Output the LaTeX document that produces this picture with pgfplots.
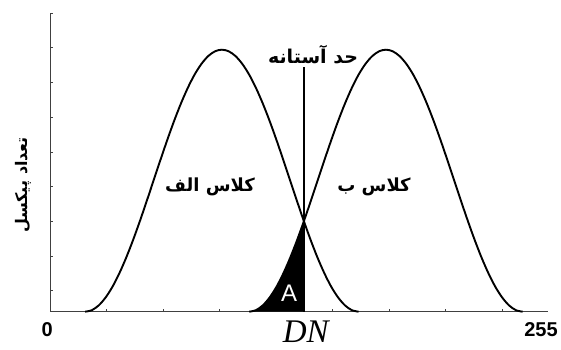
\documentclass[border=0pt]{standalone}
\usepackage{fontspec}
\setmainfont{Liberation Sans}
\newfontfamily\arabicfont[Script=Arabic]{DejaVu Sans}
\newfontfamily\serifit{Liberation Serif}
\TeXXeTstate=1
\usepackage{pgfplots}
\pgfplotsset{compat=1.18}

\begin{document}
\begin{tikzpicture}
\useasboundingbox (0,0) rectangle (561pt,349pt);
\begin{axis}[
  at={(50pt,37.3pt)}, anchor=south west,
  scale only axis, width=498pt, height=299pt,
  xmin=0, xmax=255, ymin=0, ymax=299,
  axis x line=bottom, axis y line=left,
  axis line style={-, line width=0.9pt, black!75},
  xtick={28.93,57.86,86.79,115.72,144.65,173.58,202.51,231.44},
  xticklabels={},
  ytick={21,55.7,90.4,125.1,159.8,194.5,229.2,263.9,298.6},
  yticklabels={},
  tick align=inside, major tick length=3pt,
  tick style={black!75, line width=0.7pt},
  clip=false,
]
% area A (class B pixels below the threshold)
\addplot[fill=black, draw=none] coordinates {
(102,0) (105.5,1.6) (109,6.4) (112.5,14.3) (116,25) (119.5,38.4) (123,54) (126.5,71.5) (130,90.5)
} \closedcycle;
% class A (left)
\addplot[line width=1.9pt, black, smooth] coordinates {
(18,0) (21.5,1.6) (25,6.4) (28.5,14.3) (32,25) (35.5,38.4) (39,54) (42.5,71.5) (46,90.5) (49.5,110.5) (53,131) (56.5,151.5) (60,171.5) (63.5,190.5) (67,208) (70.5,223.6) (74,237) (77.5,247.7) (81,255.6) (84.5,260.4) (88,262) (91.5,260.4) (95,255.6) (98.5,247.7) (102,237) (105.5,223.6) (109,208) (112.5,190.5) (116,171.5) (119.5,151.5) (123,131) (126.5,110.5) (130,90.5) (133.5,71.5) (137,54) (140.5,38.4) (144,25) (147.5,14.3) (151,6.4) (154.5,1.6) (158,0)
};
% class B (right)
\addplot[line width=1.9pt, black, smooth] coordinates {
(102,0) (105.5,1.6) (109,6.4) (112.5,14.3) (116,25) (119.5,38.4) (123,54) (126.5,71.5) (130,90.5) (133.5,110.5) (137,131) (140.5,151.5) (144,171.5) (147.5,190.5) (151,208) (154.5,223.6) (158,237) (161.5,247.7) (165,255.6) (168.5,260.4) (172,262) (175.5,260.4) (179,255.6) (182.5,247.7) (186,237) (189.5,223.6) (193,208) (196.5,190.5) (200,171.5) (203.5,151.5) (207,131) (210.5,110.5) (214,90.5) (217.5,71.5) (221,54) (224.5,38.4) (228,25) (231.5,14.3) (235,6.4) (238.5,1.6) (242,0)
};
% threshold
\addplot[line width=1.9pt, black] coordinates {(130,0) (130,245)};

\node[font=\arabicfont\bfseries\fontsize{19}{21}\selectfont] at (axis cs:134.7,256.7) {\beginR حد آستانه\endR};
\node[font=\arabicfont\bfseries\fontsize{18}{20}\selectfont] at (axis cs:81.9,124.7) {\beginR کلاس الف\endR};
\node[font=\arabicfont\bfseries\fontsize{18}{20}\selectfont] at (axis cs:165.9,124.7) {\beginR کلاس ب\endR};
\node[font=\arabicfont\bfseries\fontsize{16}{18}\selectfont, rotate=90] at (axis cs:-13.8,126.7) {\beginR تعداد پیکسل\endR};
\node[white, font=\fontsize{24}{24}\selectfont] at (axis cs:122.4,18.7) {A};
\node[font=\bfseries\fontsize{20}{20}\selectfont] at (axis cs:-1.5,-17.8) {0};
\node[font=\bfseries\fontsize{20}{20}\selectfont] at (axis cs:251.4,-17.8) {255};
\node[font=\serifit\itshape\fontsize{33}{33}\selectfont, anchor=base, inner sep=0pt] at (axis cs:131,-31) {DN};
\end{axis}
\end{tikzpicture}
\end{document}
